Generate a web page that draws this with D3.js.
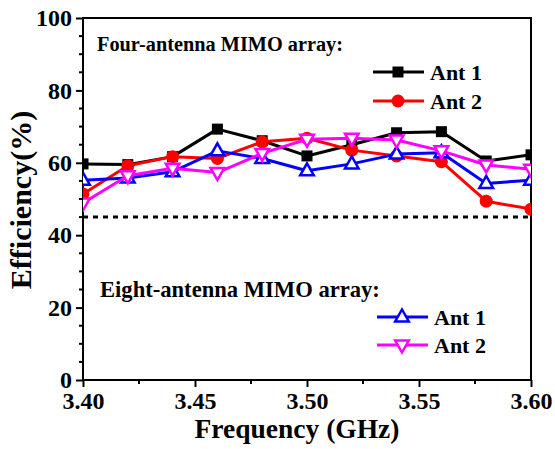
<!DOCTYPE html>
<html>
<head>
<meta charset="utf-8">
<script src="https://cdn.jsdelivr.net/npm/d3@7"></script>
<style>
  body { margin: 0; background: #fff; }
</style>
</head>
<body>
<svg id="chart" width="555" height="449"></svg>
<script>
// ---------------------------
// DATA
// ---------------------------
const frequencies = [3.40, 3.42, 3.44, 3.46, 3.48, 3.50, 3.52, 3.54, 3.56, 3.58, 3.60];
const fourAnt1 = [59.7, 59.5, 61.7, 69.3, 66.1, 61.9, 65.0, 68.3, 68.6, 60.5, 62.2];
const fourAnt2 = [51.4, 59.2, 61.7, 61.2, 65.8, 66.8, 63.5, 61.9, 60.3, 49.4, 47.2];
const eightAnt1 = [55.2, 55.8, 57.5, 63.3, 61.2, 57.8, 59.7, 62.4, 62.8, 54.3, 55.2];
const eightAnt2 = [48.9, 56.4, 58.5, 57.3, 62.6, 66.5, 66.8, 66.3, 63.3, 59.4, 58.2];
const threshold = 45;
const xTicks = [3.40, 3.45, 3.50, 3.55, 3.60];
const xMinorTicks = [3.425, 3.475, 3.525, 3.575];
const yTicks = [0, 20, 40, 60, 80, 100];
const yMinorTicks = [5, 10, 15, 25, 30, 35, 45, 50, 55, 65, 70, 75, 85, 90, 95];

const series = [
    {name: "Ant 1", values: fourAnt1, color: "#000000", shape: "square"},
    {name: "Ant 2", values: fourAnt2, color: "#ff0000", shape: "circle"},
    {name: "Ant 1", values: eightAnt1, color: "#0000ff", shape: "up"},
    {name: "Ant 2", values: eightAnt2, color: "#ff00ff", shape: "down"}
];

const serif = "'Liberation Serif', 'Times New Roman', serif";

// ---------------------------
// LAYOUT
// ---------------------------
const margin = {top: 18, right: 24, bottom: 69, left: 83};
const width = 555, height = 449;
const innerWidth = width - margin.left - margin.right;
const innerHeight = height - margin.top - margin.bottom;

const svg = d3.select("#chart")
    .style("font-family", serif)
    .style("font-weight", "bold");
const inner = svg.append("g")
    .attr("transform", `translate(${margin.left},${margin.top})`);

const xScale = d3.scaleLinear().domain([3.40, 3.60]).range([0, innerWidth]);
const yScale = d3.scaleLinear().domain([0, 100]).range([innerHeight, 0]);

svg.append("defs").append("clipPath")
    .attr("id", "plotClip")
    .append("rect")
    .attr("width", innerWidth)
    .attr("height", innerHeight);

// marker drawing helper
const drawMarker = (sel, shape, color) => {
    if (shape === "square") {
        sel.append("rect")
            .attr("x", -5.5).attr("y", -5.5)
            .attr("width", 11).attr("height", 11)
            .attr("fill", color);
    } else if (shape === "circle") {
        sel.append("circle")
            .attr("r", 6.5)
            .attr("fill", color);
    } else if (shape === "up") {
        sel.append("path")
            .attr("d", "M0,-7.5 L6.8,4.5 L-6.8,4.5 Z")
            .attr("fill", "white")
            .attr("stroke", color)
            .attr("stroke-width", 2.5);
    } else {
        sel.append("path")
            .attr("d", "M0,7.5 L6.8,-4.5 L-6.8,-4.5 Z")
            .attr("fill", "white")
            .attr("stroke", color)
            .attr("stroke-width", 2.5);
    }
};

// ---------------------------
// AXES
// ---------------------------
const xAxis = d3.axisBottom(xScale)
    .tickValues(xTicks)
    .tickFormat(d3.format(".2f"))
    .tickSize(7)
    .tickPadding(5);

const yAxis = d3.axisLeft(yScale)
    .tickValues(yTicks)
    .tickSize(7)
    .tickPadding(4);

const gx = inner.append("g")
    .attr("transform", `translate(0,${innerHeight})`)
    .call(xAxis);
const gy = inner.append("g").call(yAxis);

// minor ticks
inner.append("g")
    .selectAll("line")
    .data(xMinorTicks)
    .join("line")
    .attr("x1", d => xScale(d)).attr("x2", d => xScale(d))
    .attr("y1", innerHeight).attr("y2", innerHeight + 4)
    .attr("stroke", "black").attr("stroke-width", 2);

inner.append("g")
    .selectAll("line")
    .data(yMinorTicks)
    .join("line")
    .attr("y1", d => yScale(d)).attr("y2", d => yScale(d))
    .attr("x1", 0).attr("x2", -4)
    .attr("stroke", "black").attr("stroke-width", 2);

inner.selectAll(".domain").remove();
inner.selectAll(".tick line").attr("stroke", "black").attr("stroke-width", 2);
[gx, gy].forEach(g => g.attr("font-family", serif).attr("font-size", 24));
gx.selectAll("text")
    .style("font-family", serif).style("font-weight", "bold")
    .attr("fill", "black");
gy.selectAll("text")
    .style("font-family", serif).style("font-weight", "bold")
    .attr("fill", "black");

// frame
inner.append("rect")
    .attr("width", innerWidth)
    .attr("height", innerHeight)
    .attr("fill", "none")
    .attr("stroke", "black")
    .attr("stroke-width", 2);

// threshold line
inner.append("line")
    .attr("x1", 0).attr("x2", innerWidth)
    .attr("y1", yScale(threshold)).attr("y2", yScale(threshold))
    .attr("stroke", "black")
    .attr("stroke-width", 3)
    .attr("stroke-dasharray", "5,5");

// ---------------------------
// SERIES
// ---------------------------
const plot = inner.append("g").attr("clip-path", "url(#plotClip)");

const line = d3.line()
    .x((d, i) => xScale(frequencies[i]))
    .y(d => yScale(d));

series.forEach(s => {
    const g = plot.append("g");
    g.append("path")
        .attr("d", line(s.values))
        .attr("fill", "none")
        .attr("stroke", s.color)
        .attr("stroke-width", 3)
        .attr("stroke-linejoin", "round");
    g.selectAll(".pt")
        .data(s.values)
        .join("g")
        .attr("class", "pt")
        .attr("transform", (d, i) => `translate(${xScale(frequencies[i])},${yScale(d)})`)
        .each(function () { drawMarker(d3.select(this), s.shape, s.color); });
});

// ---------------------------
// LEGENDS
// ---------------------------
inner.append("text")
    .attr("x", 14).attr("y", 33)
    .attr("font-size", 20.3)
    .text("Four-antenna MIMO array:");

inner.append("text")
    .attr("x", 17).attr("y", 279)
    .attr("font-size", 22.6)
    .text("Eight-antenna MIMO array:");

const legendPos = [
    {x: 290, y: 54},
    {x: 290, y: 83},
    {x: 294, y: 299},
    {x: 294, y: 327}
];

series.forEach((s, i) => {
    const p = legendPos[i];
    const lg = inner.append("g").attr("transform", `translate(${p.x},${p.y})`);
    lg.append("line")
        .attr("x1", 0).attr("x2", 51)
        .attr("stroke", s.color)
        .attr("stroke-width", 3);
    const m = lg.append("g").attr("transform", "translate(25,0)");
    drawMarker(m, s.shape, s.color);
    lg.append("text")
        .attr("x", 57).attr("y", 8)
        .attr("font-size", 22)
        .text(s.name);
});

// ---------------------------
// AXIS TITLES
// ---------------------------
svg.append("text")
    .attr("x", 297)
    .attr("y", 438)
    .attr("text-anchor", "middle")
    .attr("font-size", 27.5)
    .text("Frequency (GHz)");

svg.append("text")
    .attr("transform", `translate(31,${margin.top + innerHeight / 2 + 1}) rotate(-90)`)
    .attr("text-anchor", "middle")
    .attr("font-size", 30)
    .text("Efficiency(%)");
</script>
</body>
</html>
